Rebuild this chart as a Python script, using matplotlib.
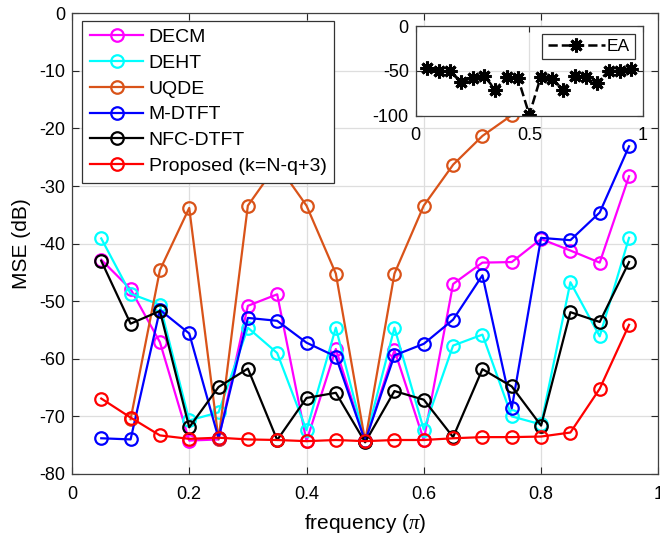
import numpy as np
import matplotlib
matplotlib.use("Agg")
import matplotlib.pyplot as plt

plt.rcParams['font.family'] = ['Liberation Sans', 'DejaVu Sans']
plt.rcParams['axes.unicode_minus'] = False
plt.rcParams['mathtext.fontset'] = 'custom'
plt.rcParams['mathtext.it'] = 'Liberation Serif:italic'

# --------------------------
# datos
# --------------------------
freq = [0.05, 0.10, 0.15, 0.20, 0.25, 0.30, 0.35, 0.40, 0.45, 0.50,
        0.55, 0.60, 0.65, 0.70, 0.75, 0.80, 0.85, 0.90, 0.95]

decm = [-42.8, -47.9, -57.1, -74.2, -74.0, -50.8, -48.8, -74.3, -58.3, -74.3,
        -58.5, -74.1, -47.0, -43.3, -43.2, -39.2, -41.2, -43.3, -28.3]
deht = [-39.1, -48.7, -50.6, -70.7, -69.3, -54.6, -59.0, -72.4, -54.6, -74.3,
        -54.6, -72.3, -57.7, -55.8, -70.0, -71.4, -46.7, -56.1, -39.0]
uqde = [np.nan, -70.5, -44.6, -33.8, -74.0, -33.4, -26.2, -33.4, -45.2, -74.3,
        -45.2, -33.4, -26.3, -21.3, -17.7, -15.0, -13.0, -11.5, -10.5]
mdtft = [-73.8, -74.0, -51.5, -55.6, -73.8, -52.9, -53.4, -57.2, -59.6, -74.3,
         -59.4, -57.4, -53.2, -45.5, -68.6, -39.0, -39.4, -34.6, -23.1]
nfcdtft = [-43.0, -53.9, -51.7, -71.9, -64.9, -61.7, -74.1, -66.8, -65.9, -74.5,
           -65.6, -67.1, -73.6, -61.8, -64.8, -71.6, -51.9, -53.6, -43.2]
proposed = [-66.9, -70.2, -73.3, -73.9, -73.7, -74.0, -74.1, -74.3, -74.1, -74.3,
            -74.1, -74.1, -73.8, -73.6, -73.6, -73.5, -72.8, -65.2, -54.1]
ea = [-47.0, -50.7, -50.0, -62.6, -57.4, -55.2, -71.0, -57.0, -58.0, -99.0,
      -57.0, -58.9, -71.0, -55.2, -57.0, -63.0, -50.0, -50.0, -47.8]

series = [
    ("DECM", decm, (1, 0, 1)),
    ("DEHT", deht, (0, 1, 1)),
    ("UQDE", uqde, (0.85, 0.325, 0.098)),
    ("M-DTFT", mdtft, (0, 0, 1)),
    ("NFC-DTFT", nfcdtft, (0, 0, 0)),
    ("Proposed (k=N-q+3)", proposed, (1, 0, 0)),
]

xticks = [0, 0.2, 0.4, 0.6, 0.8, 1]
xticklabels = ["0", "0.2", "0.4", "0.6", "0.8", "1"]
yticks = list(range(-80, 1, 10))

# --------------------------
# grafica principal
# --------------------------
fig = plt.figure(figsize=(6.6, 5.42), dpi=100)
ax = fig.add_axes([0.109, 0.1255, 0.8885, 0.85])

for nombre, vals, col in series:
    ax.plot(freq, vals, '-o', color=col, lw=1.6, ms=9, mew=1.6,
            mfc='none', label=nombre)

ax.set_xlim(0, 1)
ax.set_ylim(-80, 0)
ax.set_xticks(xticks)
ax.set_xticklabels(xticklabels)
ax.set_yticks(yticks)
ax.grid(True, color='#dedede', lw=0.9)
ax.set_axisbelow(True)
ax.tick_params(direction='in', top=True, right=True, labelsize=13,
               length=5, color='#262626', width=0.8)
ax.tick_params(axis='x', pad=9)
ax.tick_params(axis='y', pad=5)
for s in ax.spines.values():
    s.set_color('#404040')
    s.set_linewidth(0.9)
ax.set_xlabel(r"frequency ($\pi$)", fontsize=15, labelpad=6)
ax.set_ylabel("MSE (dB)", fontsize=15, labelpad=6)

leg = ax.legend(loc='upper left', bbox_to_anchor=(0.018, 0.984),
                borderaxespad=0, fontsize=14, handlelength=2.7,
                labelspacing=0.42, handletextpad=0.3, borderpad=0.4,
                fancybox=False, framealpha=1, edgecolor='#333333')
leg.get_frame().set_linewidth(0.9)

# --------------------------
# recuadro EA
# --------------------------
ins = fig.add_axes([0.630, 0.7865, 0.344, 0.1655])
ins.plot(freq, ea, '--', color='k', lw=1.8, marker=(8, 2, 0), ms=10,
         mew=2.2, label="EA")
ins.set_xlim(0, 1)
ins.set_ylim(-100, 0)
ins.set_xticks([0, 0.5, 1])
ins.set_xticklabels(["0", "0.5", "1"])
ins.set_yticks([-100, -50, 0])
ins.grid(True, color='#dedede', lw=0.9)
ins.set_axisbelow(True)
ins.tick_params(direction='in', top=True, right=True, labelsize=13,
                length=4, color='#262626', width=0.8)
ins.tick_params(axis='x', pad=8)
ins.tick_params(axis='y', pad=5)
for s in ins.spines.values():
    s.set_color('#404040')
    s.set_linewidth(0.9)
leg2 = ins.legend(loc='upper right', fontsize=12.5, handlelength=3.3,
                  handletextpad=0.1, borderpad=0.3, borderaxespad=0.45,
                  fancybox=False, framealpha=1, edgecolor='#333333')
leg2.get_frame().set_linewidth(0.9)

fig.savefig("out.png", dpi=100)
